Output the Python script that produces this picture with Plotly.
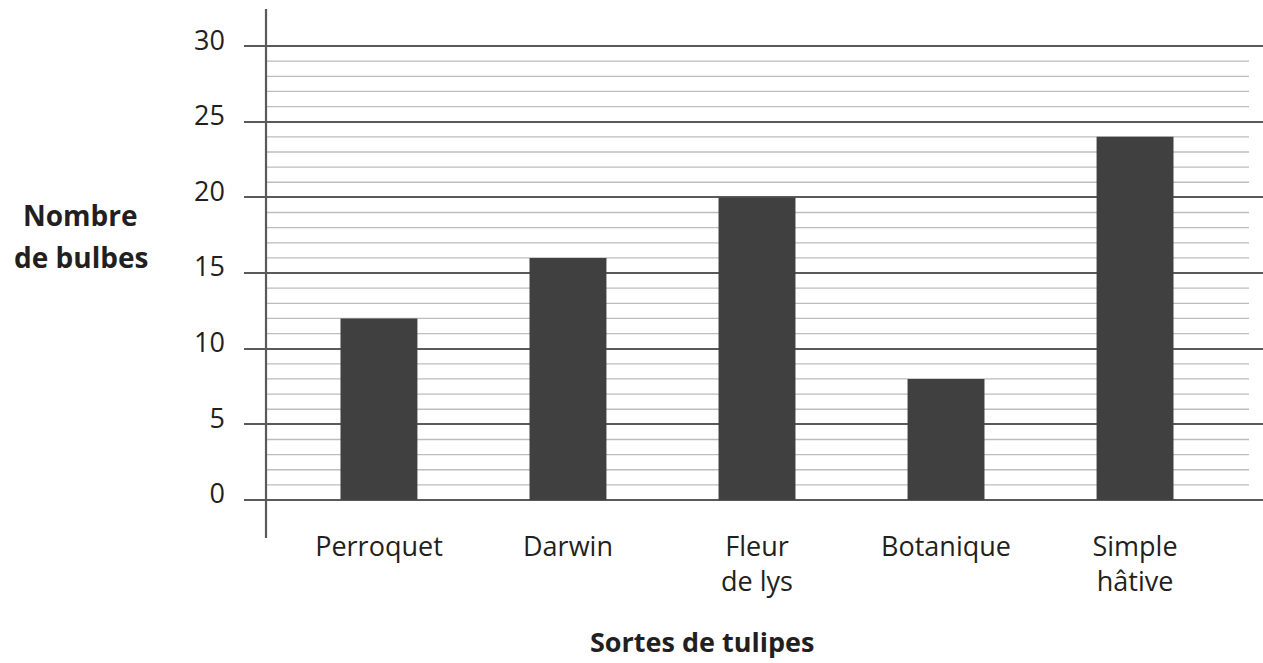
import plotly.graph_objects as go

# Tulip bulb counts by variety
sortes = ["Perroquet", "Darwin", "Fleur<br>de lys", "Botanique", "Simple<br>hâtive"]
bulbes = [12, 16, 20, 8, 24]
graduations = [0, 5, 10, 15, 20, 25, 30]

FONT = "Open Sans"
TEXT = "#231f20"
MAJOR = "#5a5a5a"
MINOR = "#bdbdbd"

fig = go.Figure(
    go.Bar(
        x=list(range(len(sortes))),
        y=bulbes,
        width=0.407,
        marker=dict(color="#404040", line=dict(width=0)),
        hoverinfo="skip",
    )
)

# light one-unit rules between the major grid lines
shapes = []
for v in range(0, 31):
    if v % 5:
        shapes.append(dict(
            type="line", xref="x", yref="y",
            x0=-0.598, x1=4.603, y0=v, y1=v,
            line=dict(color=MINOR, width=1.3), layer="below",
        ))
# vertical axis line, running past the plot bottom
shapes.append(dict(
    type="line", xref="paper", yref="paper",
    x0=0.0216, x1=0.0216, y0=-0.056, y1=1,
    line=dict(color=MAJOR, width=2.2), layer="above",
))

title_font = dict(family=FONT, size=28, color=TEXT)

fig.update_layout(
    width=1263, height=663,
    margin=dict(l=244, r=0, t=9, b=153),
    paper_bgcolor="white", plot_bgcolor="white",
    showlegend=False,
    font=dict(family=FONT, size=28, color=TEXT),
    shapes=shapes,
    xaxis=dict(
        range=[-0.714, 4.677],
        tickmode="array",
        tickvals=list(range(len(sortes))),
        ticktext=sortes,
        showgrid=False, zeroline=False, showline=False, ticks="",
        tickfont=dict(family=FONT, size=27, color=TEXT),
        ticklabelstandoff=18,
    ),
    yaxis=dict(
        range=[-0.66, 32.45],
        tickmode="array",
        tickvals=graduations,
        ticktext=[str(g) for g in graduations],
        showgrid=True, gridcolor=MAJOR, gridwidth=2.2,
        zeroline=False, showline=False, ticks="",
        tickfont=dict(family=FONT, size=27, color=TEXT),
        ticklabelstandoff=18,
        ticklabelshift=-6,
    ),
    annotations=[
        dict(text="<b>Nombre</b>", xref="paper", yref="paper",
             x=-0.160, y=0.589, showarrow=False,
             xanchor="center", yanchor="middle", font=title_font),
        dict(text="<b>de bulbes</b>", xref="paper", yref="paper",
             x=-0.160, y=0.505, showarrow=False,
             xanchor="center", yanchor="middle", font=title_font),
        dict(text="<b>Sortes de tulipes</b>", xref="paper", yref="paper",
             x=0.449, y=-0.263, showarrow=False,
             xanchor="center", yanchor="middle",
             font=dict(family=FONT, size=27, color=TEXT)),
    ],
)

fig.write_html("out.html")
